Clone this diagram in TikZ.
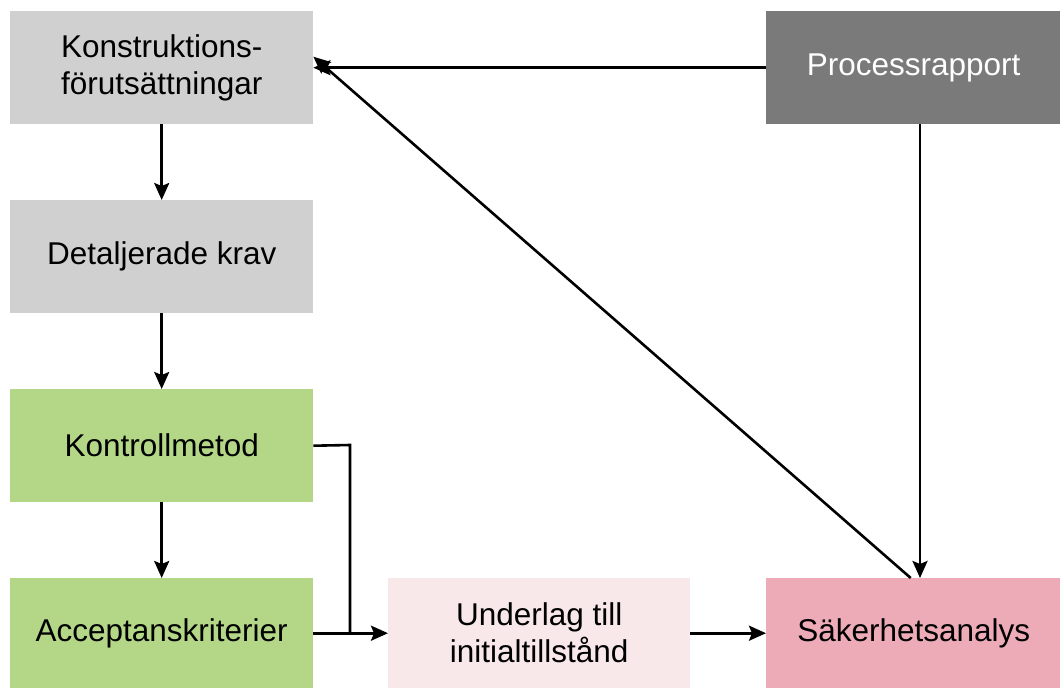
\documentclass[tikz,border=0pt]{standalone}
\usepackage{fontspec}
\setmainfont{Liberation Sans}
\usetikzlibrary{arrows.meta}
\definecolor{boxgray}{HTML}{D0D0D0}
\definecolor{boxdark}{HTML}{7A7A7A}
\definecolor{boxgreen}{HTML}{B3D786}
\definecolor{boxpale}{HTML}{F9E8EA}
\definecolor{boxpink}{HTML}{EDABB8}
\tikzset{
  blk/.style={draw=none, minimum width=303pt, minimum height=113pt, inner sep=0pt,
    align=center, font=\fontsize{31.5}{37}\selectfont, anchor=north west},
  wblk/.style={blk, minimum width=295pt},
  conn/.style={line width=2.6pt, -{Stealth[length=17pt,width=15pt,inset=3pt]}},
  plain/.style={line width=2.6pt}
}
\begin{document}
\begin{tikzpicture}[x=1pt,y=-1pt]
\useasboundingbox (0,0) rectangle (1060,688);
\node[blk, fill=boxgray] (kf) at (10,11) {Konstruktions-\\förutsättningar};
\node[blk, fill=boxgray] (dk) at (10,200) {Detaljerade krav};
\node[blk, fill=boxgreen] (km) at (10,389) {Kontrollmetod};
\node[blk, fill=boxgreen, minimum height=110pt] (ak) at (10,578) {Acceptanskriterier};
\node[blk, fill=boxpale, minimum width=302pt, minimum height=110pt] (ui) at (388,578) {Underlag till\\initialtillstånd};
\node[wblk, fill=boxpink, minimum height=110pt] (sa) at (766,578) {Säkerhetsanalys};
\node[wblk, fill=boxdark, text=white] (pr) at (766,11) {Processrapport};
\coordinate (bend1) at (350,445);
\coordinate (bend2) at (350,633);
% vertical chain on the left
\draw[conn] (kf.south) -- (dk.north);
\draw[conn] (dk.south) -- (km.north);
\draw[conn] (km.south) -- (ak.north);
% routing to the initial-state box
\draw[plain] (km.east) -- (bend1) -- (bend2);
\draw[conn] (ak.east) -- (ui.west);
\draw[conn] (ui.east) -- (sa.west);
% feedback from the process report and safety analysis
\draw[conn] (pr.west) -- (kf.east);
\draw[conn] (pr.south -| 920,0) -- (sa.north -| 920,0);
\draw[conn] ([xshift=-3pt]sa.north) -- ([yshift=11pt]kf.east);
\end{tikzpicture}
\end{document}
